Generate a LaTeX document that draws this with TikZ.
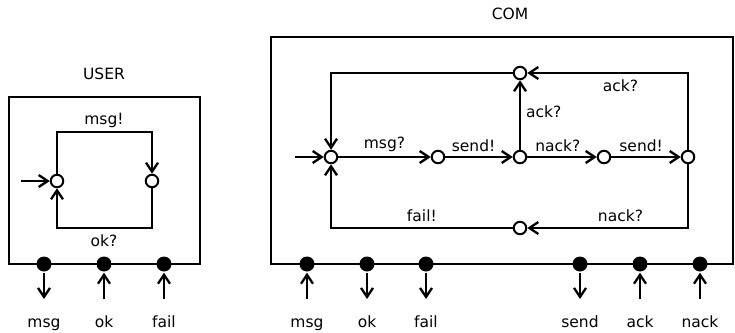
\documentclass[tikz,border=0pt]{standalone}
\usepackage{fontspec}
\setmainfont{DejaVu Sans}
\usetikzlibrary{arrows.meta,positioning}

\begin{document}
\begin{tikzpicture}[x=1pt,y=-1pt,line width=2.3pt,
    >={Straight Barb[length=9pt,width=12pt]},
    state/.style={circle,draw,fill=white,inner sep=0pt,minimum size=12.5pt,line width=2pt},
    port/.style={circle,fill=black,inner sep=0pt,minimum size=15pt},
    lbl/.style={font=\fontsize{15.5}{18}\selectfont,inner sep=1pt},
    portlbl/.style={lbl,anchor=base},
    procbox/.style={draw,line width=2.3pt}]
  \useasboundingbox (0,0) rectangle (735,332);

  % USER
  \node[lbl] (usertitle) at (104,74) {USER};
  \draw[procbox] (9,97) rectangle (200,264);
  \node[state] (u0) at (57,181) {};
  \node[state] (u1) at (152,181) {};
  \coordinate (uin) at (21,181);
  \coordinate (utop) at (104,132);
  \coordinate (ubot) at (104,228);
  \draw[->] (uin) -- (u0);
  \draw[->] (u0) |- (utop) -| (u1);
  \draw[->] (u1) |- (ubot) -| (u0);
  \node[lbl] at (104,120) {msg!};
  \node[lbl] at (104,241) {ok?};

  % USER ports
  \foreach \nm/\x in {msg/44,ok/104,fail/164}{
    \node[port] (u\nm) at (\x,264) {};
    \coordinate (u\nm-end) at (\x,299);
    \node[portlbl] (u\nm-lbl) at (\x,327) {\nm};
  }
  \draw[->] (umsg) -- (umsg-end);
  \foreach \nm in {ok,fail}
    \draw[->] (u\nm-end) -- (u\nm);

  % COM
  \node[lbl] (comtitle) at (510,14) {COM};
  \draw[procbox] (271,37) rectangle (733,264);
  \node[state] (c0) at (331,157) {};
  \node[state] (c1) at (438,157) {};
  \node[state] (c2) at (520,157) {};
  \node[state] (c3) at (604,157) {};
  \node[state] (c4) at (688,157) {};
  \node[state] (c5) at (520,73) {};
  \node[state] (c6) at (520,228) {};
  \coordinate (cin) at (295,157);
  \draw[->] (cin) -- (c0);
  \draw[->] (c0) -- node[lbl,above=3pt] {msg?} (c1);
  \draw[->] (c1) -- node[lbl,above=3pt,pos=.42] {send!} (c2);
  \draw[->] (c2) -- node[lbl,above=3pt,pos=.44] {nack?} (c3);
  \draw[->] (c3) -- node[lbl,above=3pt,pos=.43] {send!} (c4);
  \draw[->] (c2) -- node[lbl,right=4pt,pos=.55] {ack?} (c5);
  \draw[->] (c4) |- node[lbl,below=5pt,pos=.71] {ack?} (c5);
  \draw[->] (c5) -| (c0);
  \draw[->] (c4) |- node[lbl,above=4pt,pos=.71] {nack?} (c6);
  \draw[->] (c6) -| node[lbl,above=4pt,pos=.25] {fail!} (c0);

  % COM ports
  \foreach \nm/\x in {msg/307,ok/367,fail/426,send/580,ack/640,nack/700}{
    \node[port] (c\nm) at (\x,264) {};
    \coordinate (c\nm-end) at (\x,299);
    \node[portlbl] (c\nm-lbl) at (\x,327) {\nm};
  }
  \foreach \nm in {ok,fail,send}
    \draw[->] (c\nm) -- (c\nm-end);
  \foreach \nm in {msg,ack,nack}
    \draw[->] (c\nm-end) -- (c\nm);
\end{tikzpicture}
\end{document}
